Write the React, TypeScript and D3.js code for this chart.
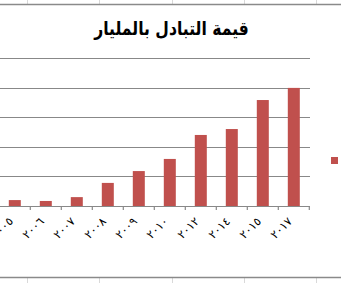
import React from "react";
import * as d3 from "d3";

const categories = ["٢٠٠٥", "٢٠٠٦", "٢٠٠٧", "٢٠٠٨", "٢٠٠٩", "٢٠١٠", "٢٠١٢", "٢٠١٤", "٢٠١٥", "٢٠١٧"];
const values = [20, 17, 30, 78, 118, 159, 240, 260, 358, 399];
const gridTicks = [0, 100, 200, 300, 400, 500];
const title = "قيمة التبادل بالمليار";
const barColor = "#C0504D";
const sheetCols = [27, 99, 172, 244, 316];

export default function App() {
  const W = 341, H = 283;
  const x = d3.scaleBand<string>().domain(categories).range([-0.7, 309.3]).paddingInner(0.6129).paddingOuter(0.30645);
  const y = d3.scaleLinear().domain([0, 500]).range([206, 58]);
  const step = x.step();
  return (
    <svg width={W} height={H} style={{ position: "absolute", left: 0, top: 0, background: "#fff" }}>
      {sheetCols.map((c, i) => (
        <line key={"t" + i} x1={c + 0.5} x2={c + 0.5} y1={0} y2={4} stroke="#d9d9d9" />
      ))}
      <line x1={0} x2={W} y1={4.5} y2={4.5} stroke="#8a8a8a" strokeWidth={1.3} />
      {sheetCols.map((c, i) => (
        <line key={"b" + i} x1={c + 0.5} x2={c + 0.5} y1={277} y2={H} stroke="#d9d9d9" />
      ))}
      <line x1={0} x2={W} y1={277.5} y2={277.5} stroke="#8a8a8a" strokeWidth={1.3} />
      {gridTicks.slice(1).map((t) => (
        <line key={t} x1={0} x2={310} y1={Math.round(y(t)) + 0.5} y2={Math.round(y(t)) + 0.5} stroke="#888" strokeWidth={1.2} />
      ))}
      {categories.map((c, i) => (
        <rect key={c} x={x(c)} y={y(values[i])} width={x.bandwidth()} height={206 - y(values[i])} fill={barColor} />
      ))}
      <line x1={0} x2={310} y1={206.5} y2={206.5} stroke="#888" strokeWidth={1.2} />
      {categories.map((c, i) => {
        const b = (x(c) as number) - (step - x.bandwidth()) / 2 + step;
        return <line key={"tk" + i} x1={b} x2={b} y1={206} y2={210} stroke="#888" strokeWidth={1.2} />;
      })}
      {categories.map((c) => {
        const cx = (x(c) as number) + x.bandwidth() / 2 - 1;
        const cy = 222;
        return (
          <text key={"l" + c} x={cx} y={cy} transform={`rotate(-45 ${cx} ${cy})`} textAnchor="end" direction="ltr"
            fontFamily="DejaVu Sans, sans-serif" fontSize={11.5} letterSpacing={3} fill="#000">
            {c}
          </text>
        );
      })}
      <text transform="translate(171.5 35) scale(0.92 1.12)" textAnchor="middle" fontFamily="DejaVu Sans, sans-serif" fontWeight="bold" fontSize={17} fill="#000" direction="rtl">
        {title}
      </text>
      <rect x={331} y={157} width={7} height={7} fill={barColor} />
    </svg>
  );
}
